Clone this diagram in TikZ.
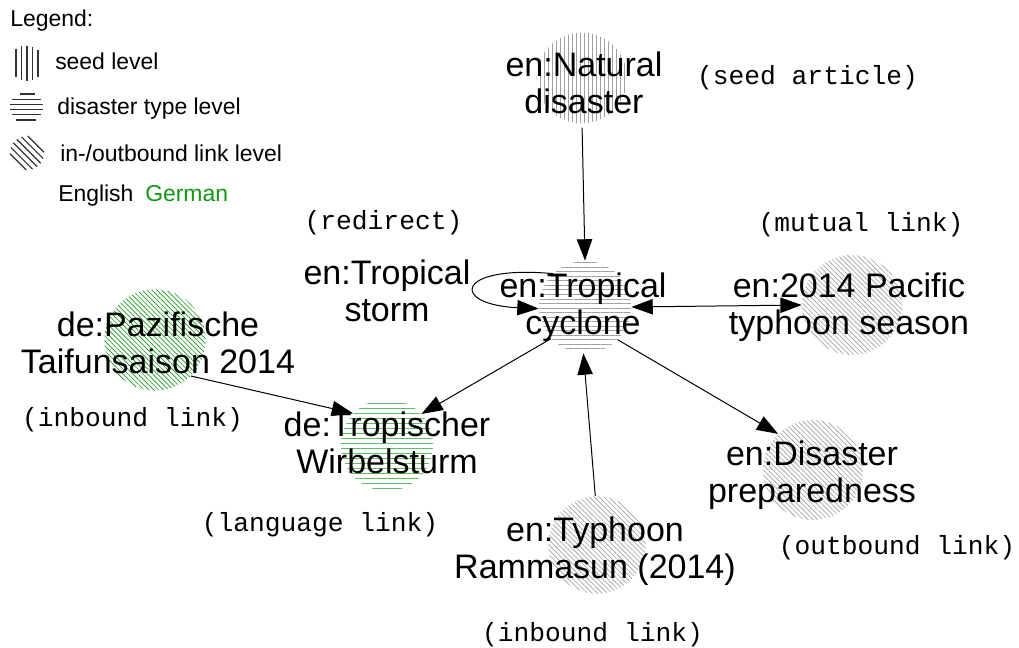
\documentclass[tikz,border=0pt]{standalone}
\usepackage{fontspec}
\setmainfont{Liberation Sans}
\setmonofont{Liberation Mono}
\usetikzlibrary{patterns.meta,arrows.meta}
\definecolor{degreen}{RGB}{20,150,20}
\definecolor{hatch}{RGB}{160,160,160}
\begin{document}
\begin{tikzpicture}[x=0.75pt,y=-0.75pt,
  >={Triangle[length=16pt,width=11.5pt]},
  lbl/.style={font=\fontsize{25.5}{27.75}\selectfont, align=center, inner sep=0pt},
  mono/.style={font=\ttfamily\fontsize{19.7}{22}\selectfont, inner sep=0pt},
  leg/.style={font=\fontsize{17.2}{20}\selectfont, inner sep=0pt, anchor=base west},
  blob/.style={circle, inner sep=0pt, minimum size=#1},
  seedpat/.style={pattern={Lines[angle=90,distance=3pt,line width=0.55pt]}, pattern color=#1},
  typepat/.style={pattern={Lines[angle=0,distance=#1,line width=0.6pt]}},
  linkpat/.style={pattern={Lines[angle=-45,distance=2.6pt,line width=0.5pt]}, pattern color=#1},
  arr/.style={->, line width=0.75pt},
  biarr/.style={<->, line width=0.75pt},
  legline/.style={line width=0.9pt, black!80},
]
\useasboundingbox (0,0) rectangle (1019,648);

% ---- legend ----
\node[leg] (legtitle) at (10,27) {Legend:};
\foreach \xx/\a/\b in {16/49/77, 21.5/46/80, 27/46/81, 32.5/47/80, 38/50/77}
  \draw[legline] (\xx,\a) -- (\xx,\b);
\node[leg] (legseed) at (55,70) {seed level};
\foreach \yy/\a/\b in {94/20/35, 99.3/12/41, 104.3/10/43, 109.3/10/43, 114.6/12/41, 120/16/36}
  \draw[legline] (\a,\yy) -- (\b,\yy);
\node[leg] (legtype) at (57,115) {disaster type level};
\foreach \dd in {-12.5,-7.5,-2.5,2.5,7.5,12.5}{
  \pgfmathsetmacro\LL{sqrt(289-\dd*\dd)}
  \draw[legline] ({27+(\dd-\LL)*0.7071},{153+(-\dd-\LL)*0.7071}) -- ({27+(\dd+\LL)*0.7071},{153+(-\dd+\LL)*0.7071});
}
\node[leg] (leglink) at (60,162) {in-/outbound link level};
\node[leg] (legen) at (58,202) {English};
\node[leg, text=degreen] (legde) at (145,202) {German};

% ---- hatched circles ----
\node[blob=68pt, seedpat=hatch] (nd) at (582,78) {};
\node[blob=69pt, typepat=3.4pt, pattern color=hatch] (tc) at (585,307) {};
\node[blob=75pt, linkpat=hatch] (pac) at (852,305) {};
\node[blob=76pt, linkpat=degreen] (pz) at (155,340) {};
\node[blob=69pt, typepat=4pt, pattern color=degreen] (tw) at (387,445) {};
\node[blob=75pt, linkpat=hatch] (dp) at (813,470) {};
\node[blob=73pt, linkpat=hatch] (ram) at (597,545) {};

% ---- connectors ----
\draw[arr, shorten <=3pt] (nd.south) -- (tc.north);
\draw[arr] (tc.134) .. controls +(-98,-9) and +(-89,-4) .. (tc.182);
\draw[biarr] (tc.east) -- (pac.west);
\draw[arr] (tc.223) -- (tw.42);
\draw[arr] (pz.-45) -- (tw.137);
\draw[arr] (tc.-45) -- (dp.134);
\draw[arr] (ram.92) -- (tc.268);

% ---- labels ----
\node[lbl] (ndt) at (584,82.5) {en:Natural\\disaster};
\node[lbl] (tct) at (583,307) {en:Tropical\\cyclone};
\node[lbl] (tst) at (387,290.5) {en:Tropical\\storm};
\node[lbl] (pact) at (849,307.5) {en:2014 Pacific\\typhoon season};
\node[lbl] (pzt) at (158,342.5) {de:Pazifische\\Taifunsaison 2014};
\node[lbl] (twt) at (387,442.5) {de:Tropischer\\Wirbelsturm};
\node[lbl] (dpt) at (812,475) {en:Disaster\\preparedness};
\node[lbl] (ramt) at (595,551) {en:Typhoon\\Rammasun (2014)};

\node[mono] (m1) at (807.5,78) {(seed article)};
\node[mono] (m2) at (383.5,223) {(redirect)};
\node[mono] (m3) at (861,225) {(mutual link)};
\node[mono] (m4) at (132.5,420) {(inbound link)};
\node[mono] (m5) at (320,525) {(language link)};
\node[mono] (m6) at (897,548) {(outbound link)};
\node[mono] (m7) at (592.5,635) {(inbound link)};
\end{tikzpicture}
\end{document}
